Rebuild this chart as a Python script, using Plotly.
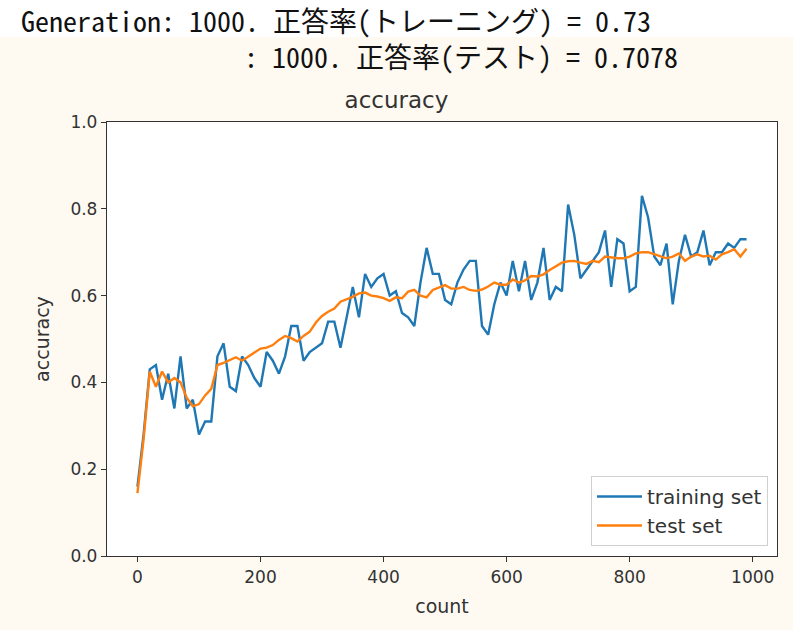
import plotly.graph_objects as go

counts = list(range(0, 1000, 10))

train_acc = [
    0.16, 0.28, 0.43, 0.44, 0.36, 0.42, 0.34, 0.46, 0.34, 0.36,
    0.28, 0.31, 0.31, 0.46, 0.49, 0.39, 0.38, 0.46, 0.44, 0.41,
    0.39, 0.47, 0.45, 0.42, 0.46, 0.53, 0.53, 0.45, 0.47, 0.48,
    0.49, 0.54, 0.54, 0.48, 0.55, 0.62, 0.55, 0.65, 0.62, 0.64,
    0.65, 0.60, 0.61, 0.56, 0.55, 0.53, 0.63, 0.71, 0.65, 0.65,
    0.59, 0.58, 0.63, 0.66, 0.68, 0.68, 0.53, 0.51, 0.58, 0.63,
    0.60, 0.68, 0.61, 0.68, 0.59, 0.63, 0.71, 0.59, 0.62, 0.61,
    0.81, 0.74, 0.64, 0.66, 0.68, 0.70, 0.75, 0.62, 0.73, 0.72,
    0.61, 0.62, 0.83, 0.78, 0.69, 0.67, 0.72, 0.58, 0.68, 0.74,
    0.69, 0.70, 0.75, 0.67, 0.70, 0.70, 0.72, 0.71, 0.73, 0.73,
]

test_acc = [
    0.145, 0.27, 0.425, 0.39, 0.425, 0.40, 0.41, 0.40, 0.365, 0.345,
    0.35, 0.37, 0.385, 0.44, 0.445, 0.452, 0.458, 0.45, 0.46, 0.468,
    0.478, 0.48, 0.486, 0.498, 0.507, 0.502, 0.494, 0.507, 0.517, 0.538,
    0.553, 0.563, 0.57, 0.586, 0.592, 0.597, 0.605, 0.607, 0.60, 0.598,
    0.594, 0.588, 0.596, 0.594, 0.609, 0.613, 0.60, 0.596, 0.613, 0.618,
    0.624, 0.616, 0.616, 0.62, 0.613, 0.611, 0.614, 0.621, 0.63, 0.625,
    0.625, 0.637, 0.63, 0.635, 0.645, 0.644, 0.649, 0.659, 0.668, 0.676,
    0.679, 0.68, 0.676, 0.673, 0.68, 0.677, 0.69, 0.688, 0.686, 0.686,
    0.69, 0.697, 0.70, 0.70, 0.695, 0.69, 0.686, 0.69, 0.697, 0.68,
    0.69, 0.695, 0.69, 0.692, 0.683, 0.695, 0.70, 0.707, 0.69, 0.708,
]

x_ticks = [0, 200, 400, 600, 800, 1000]
y_ticks = [0.0, 0.2, 0.4, 0.6, 0.8, 1.0]

header_lines = [
    "Generation: 1000. 正答率(トレーニング) = 0.73",
    ": 1000. 正答率(テスト) = 0.7078",
]

W, H = 793, 630
L, R, T, B = 107, 16, 122, 74
pw, ph = W - L - R, H - T - B

def px_x(p):
    return (p - L) / pw

def px_y(p):
    return (H - B - p) / ph

TXT = "#333333"
CREAM = "#fefaf2"
mono = "'Noto Sans Mono CJK JP', 'Noto Sans CJK JP', 'DejaVu Sans Mono', monospace"
sans = "'DejaVu Sans', sans-serif"

fig = go.Figure()
fig.add_trace(go.Scatter(x=counts, y=train_acc, mode="lines", name="training set",
                         line=dict(color="#1f77b4", width=2.4)))
fig.add_trace(go.Scatter(x=counts, y=test_acc, mode="lines", name="test set",
                         line=dict(color="#ff7f0e", width=2.4)))

fig.add_shape(type="rect", xref="paper", yref="paper",
              x0=px_x(-5), x1=px_x(W + 5), y0=px_y(37), y1=px_y(-5),
              fillcolor="white", line=dict(width=0), layer="below")

fig.add_annotation(xref="paper", yref="paper", x=px_x(19), y=px_y(20),
                   xanchor="left", yanchor="middle", showarrow=False,
                   text=header_lines[0], font=dict(family=mono, size=28, color="#111"))
fig.add_annotation(xref="paper", yref="paper", x=px_x(242), y=px_y(56),
                   xanchor="left", yanchor="middle", showarrow=False,
                   text=header_lines[1], font=dict(family=mono, size=28, color="#111"))

fig.update_layout(
    width=W, height=H,
    margin=dict(l=L, r=R, t=T, b=B),
    paper_bgcolor=CREAM, plot_bgcolor="white",
    font=dict(family=sans, color=TXT, size=17),
    title=dict(text="accuracy", x=px_x(442), xanchor="center",
               y=1 - 100 / H, yanchor="middle", font=dict(size=23, color=TXT)),
    showlegend=True,
    legend=dict(x=px_x(768), y=px_y(546), xanchor="right", yanchor="bottom",
                bgcolor="rgba(255,255,255,0.85)", bordercolor="#d0d0d0", borderwidth=1,
                font=dict(size=20, color=TXT), tracegroupgap=0, itemwidth=45),
    xaxis=dict(range=[-49.5, 1039.5], tickvals=x_ticks, ticks="outside", ticklen=5,
               tickcolor=TXT, showgrid=False, zeroline=False, showline=True, mirror=True,
               linecolor="#333", linewidth=1.3, tickfont=dict(size=17, color=TXT),
               title=dict(text="count", font=dict(size=19, color=TXT), standoff=14)),
    yaxis=dict(range=[0, 1], tickvals=y_ticks, tickformat=".1f", ticks="outside", ticklen=5,
               tickcolor=TXT, showgrid=False, zeroline=False, showline=True, mirror=True,
               linecolor="#333", linewidth=1.3, tickfont=dict(size=17, color=TXT),
               title=dict(text="accuracy", font=dict(size=19, color=TXT), standoff=15)),
)

fig.write_html(
    "out.html",
    config={"displayModeBar": False},
    post_script="document.body.style.margin='0';document.body.style.background='%s';" % CREAM,
)
